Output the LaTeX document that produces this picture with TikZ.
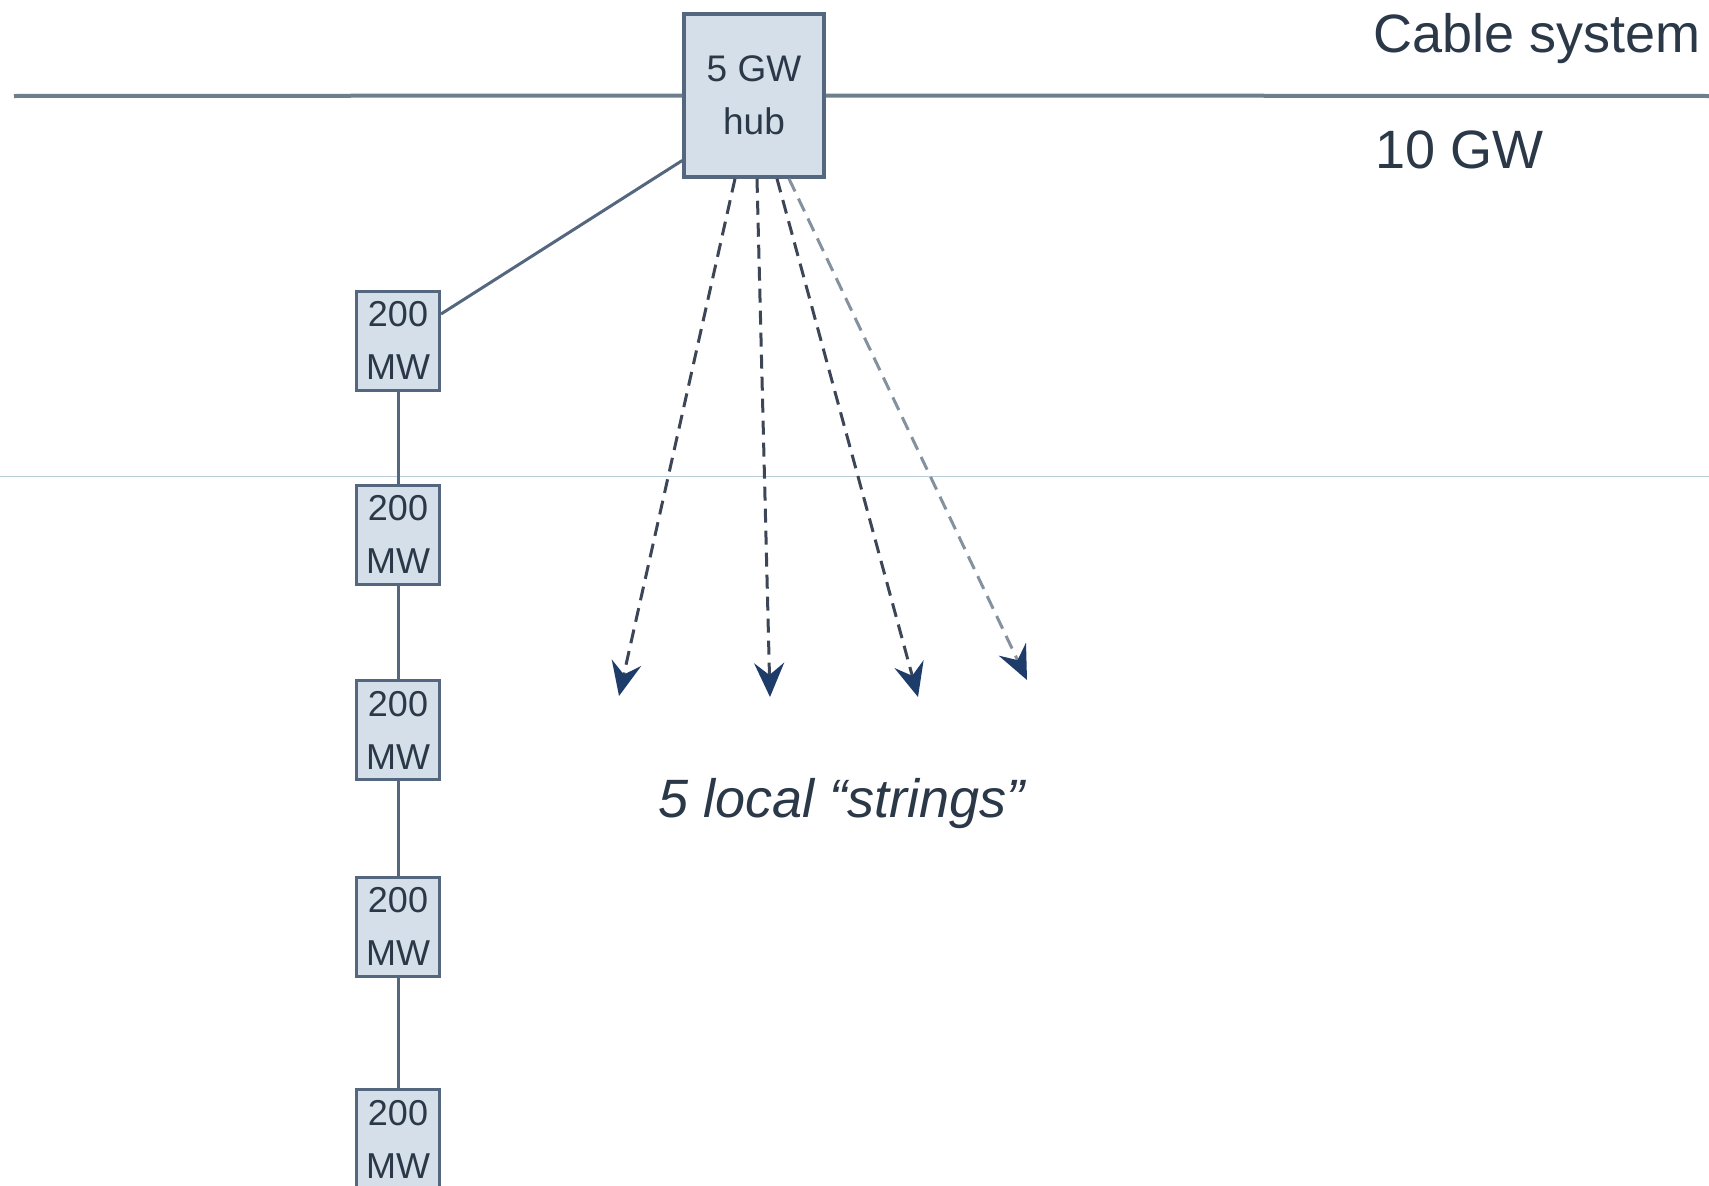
\documentclass[tikz,border=0pt]{standalone}
\usepackage{fontspec}
\setmainfont{Liberation Sans}
\usetikzlibrary{arrows.meta}
\definecolor{boxfill}{HTML}{D5DFEA}
\definecolor{boxline}{HTML}{55677E}
\definecolor{txt}{HTML}{2A3848}
\definecolor{cable}{HTML}{6E7E8E}
\definecolor{dashc}{HTML}{3D4656}
\definecolor{navy}{HTML}{1E3C6A}
\definecolor{thinc}{HTML}{B8CCD8}
\tikzset{
  hubbox/.style={draw=boxline, line width=3.5pt, fill=boxfill, minimum width=140pt, minimum height=163pt, inner sep=0pt, align=center, text=txt, font=\fontsize{37}{53}\selectfont},
  mwbox/.style={draw=boxline, line width=3pt, fill=boxfill, minimum width=83pt, minimum height=99pt, inner sep=0pt, align=center, text=txt, font=\fontsize{36}{53}\selectfont},
  link/.style={draw=boxline, line width=3pt},
  strline/.style={draw=dashc, line width=3pt, dash pattern=on 14pt off 8pt, -{Stealth[length=34pt,width=30pt,inset=12pt,color=navy,fill=navy]}},
  lbl/.style={text=txt, font=\fontsize{54}{60}\selectfont, inner sep=0pt, anchor=base west}
}
\begin{document}
\begin{tikzpicture}[x=1pt,y=-1pt]
\useasboundingbox (0,0) rectangle (1709,1186);
\clip (0,0) rectangle (1709,1186);
\fill[white] (0,0) rectangle (1709,1186);
% thin background line
\coordinate (tl) at (0,476);
\coordinate (tr) at (1709,476);
\draw[draw=thinc, line width=1pt] (tl) -- (tr);
% hub
\node[hubbox] (hub) at (754,95.5) {5 GW\\hub};
\coordinate (cl) at (14,96);
\coordinate (cr) at (1709,96);
\draw[draw=cable, line width=4pt] (cl) -- (hub.west);
\draw[draw=cable, line width=4pt] (hub.east) -- (cr);
% 200 MW boxes
\node[mwbox] (m1) at (398,340.5) {200\\MW};
\node[mwbox] (m2) at (398,534.5) {200\\MW};
\node[mwbox] (m3) at (398,730) {200\\MW};
\node[mwbox] (m4) at (398,926.5) {200\\MW};
\node[mwbox] (m5) at (398,1139) {200\\MW};
\draw[link] ([yshift=-65pt]hub.west) -- ([yshift=26.5pt]m1.east);
\draw[link] (m1) -- (m2);
\draw[link] (m2) -- (m3);
\draw[link] (m3) -- (m4);
\draw[link] (m4) -- (m5);
% strings
\coordinate (e1) at (619,696);
\coordinate (e2) at (770,697);
\coordinate (e3) at (918,697);
\coordinate (e4) at (1027,680);
\draw[strline] ([xshift=-19pt]hub.south) -- (e1);
\draw[strline] ([xshift=3pt]hub.south) -- (e2);
\draw[strline] ([xshift=23pt]hub.south) -- (e3);
\draw[strline, draw=cable!85] ([xshift=35pt]hub.south) -- (e4);
% labels
\node[lbl] (cs) at (1373,52) {Cable system};
\node[lbl] (gw) at (1375,168) {10 GW};
\node[lbl, anchor=base, font=\fontsize{54}{60}\selectfont\itshape] (ls) at (842,817) {5 local “strings”};
\end{tikzpicture}
\end{document}
